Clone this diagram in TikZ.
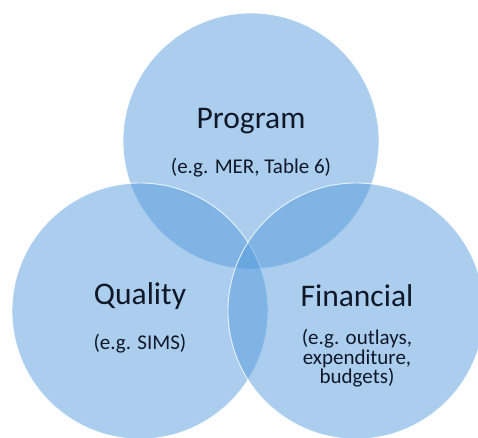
\documentclass[tikz,border=0pt]{standalone}
\usepackage{fontspec}
\setmainfont{Carlito}
\usepackage{xcolor}
\usepackage{tikz}
\usetikzlibrary{positioning,calc}
\definecolor{vennblue}{RGB}{80,152,220}
\definecolor{inkblue}{RGB}{16,24,40}

\begin{document}
\begin{tikzpicture}[x=1pt, y=1pt,
  venn/.style={circle, minimum size=256pt, inner sep=0pt, fill=vennblue, fill opacity=0.48, draw=white, draw opacity=0.8, line width=0.9pt},
  head/.style={text=inkblue, font=\fontsize{31.5}{33}\selectfont, inner sep=0pt},
  note/.style={text=inkblue, font=\fontsize{21}{19.5}\selectfont, align=center, inner sep=0pt}]
\useasboundingbox (0,0) rectangle (478,437);
\node[venn] (prog) at (251,296) {};
\node[venn] (qual) at (140,126) {};
\node[venn] (fin) at (356,126) {};
\node[head] (progt) at (251,316) {Program};
\node[note, below=24pt of progt] (progn) {(e.g. MER, Table 6)};
\node[head] (qualt) at (140,141) {Quality};
\node[note, below=24pt of qualt] (qualn) {(e.g. SIMS)};
\node[head] (fint) at (357,141) {Financial};
\node[note, below=22pt of fint] (finn) {(e.g. outlays,\\expenditure,\\budgets)};
\end{tikzpicture}
\end{document}
